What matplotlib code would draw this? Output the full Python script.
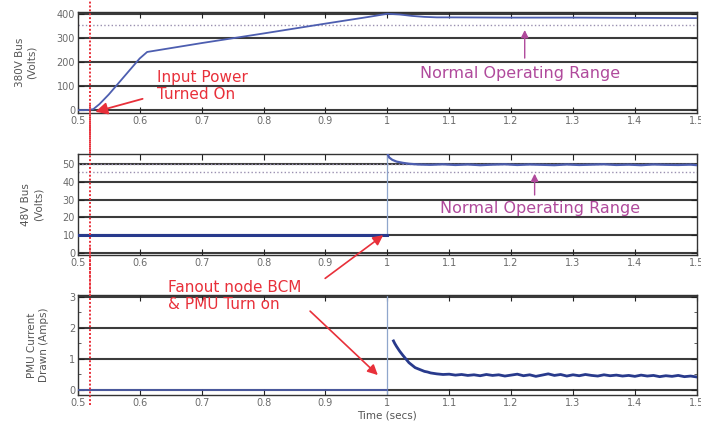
import matplotlib.pyplot as plt
import numpy as np

# ---- data ----
x_ticks = [0.5, 0.6, 0.7, 0.8, 0.9, 1.0, 1.1, 1.2, 1.3, 1.4, 1.5]
x_ticklabels = ['0.5', '0.6', '0.7', '0.8', '0.9', '1', '1.1', '1.2', '1.3', '1.4', '1.5']

# 380V bus
t380 = [0.5, 0.515, 0.525, 0.535, 0.55, 0.57, 0.59, 0.60, 0.612, 0.65, 0.70,
        0.80, 0.90, 0.97, 1.0, 1.02, 1.04, 1.06, 1.08, 1.1, 1.2, 1.3, 1.4, 1.5]
v380 = [0, 0, 4, 25, 65, 125, 185, 215, 242, 258, 279,
        319, 360, 388, 401, 398, 392, 388, 386, 386, 385, 385, 384, 383]
range380 = [355]
ticks380 = [0, 100, 200, 300, 400]

# 48V bus
t48_off = [0.5, 1.0]
v48_off = [10.3, 10.3]
t48_on = [1.0, 1.003, 1.008, 1.015, 1.025, 1.035, 1.05, 1.07, 1.09, 1.11,
          1.13, 1.15, 1.17, 1.19, 1.21, 1.23, 1.25, 1.27, 1.29, 1.31, 1.33,
          1.35, 1.37, 1.39, 1.41, 1.43, 1.45, 1.47, 1.49, 1.5]
v48_on = [56, 53.5, 52.2, 51.2, 50.5, 50.0, 49.6, 49.4, 49.7, 49.3,
          49.6, 49.2, 49.5, 49.7, 49.3, 49.6, 49.4, 49.2, 49.6, 49.3, 49.5,
          49.7, 49.3, 49.5, 49.2, 49.6, 49.4, 49.3, 49.5, 49.2]
range48 = [50, 45.5]
ticks48 = [0, 10, 20, 30, 40, 50]

# PMU current
tcur_off = [0.5, 1.0]
vcur_off = [0.0, 0.0]
tcur_on = [1.010, 1.012, 1.015, 1.02, 1.025, 1.03, 1.035, 1.04, 1.045, 1.05,
           1.055, 1.06, 1.065, 1.07, 1.08, 1.09, 1.10, 1.11, 1.12, 1.13, 1.14,
           1.15, 1.16, 1.17, 1.18, 1.19, 1.20, 1.21, 1.22, 1.23, 1.24, 1.25,
           1.26, 1.27, 1.28, 1.29, 1.30, 1.31, 1.32, 1.33, 1.34, 1.35, 1.36,
           1.37, 1.38, 1.39, 1.40, 1.41, 1.42, 1.43, 1.44, 1.45, 1.46, 1.47,
           1.48, 1.49, 1.50]
vcur_on = [1.58, 1.50, 1.40, 1.25, 1.12, 1.00, 0.88, 0.80, 0.72, 0.68,
           0.64, 0.60, 0.58, 0.55, 0.52, 0.50, 0.51, 0.48, 0.50, 0.47, 0.49,
           0.46, 0.50, 0.47, 0.49, 0.45, 0.48, 0.51, 0.46, 0.49, 0.44, 0.48,
           0.52, 0.47, 0.50, 0.45, 0.49, 0.46, 0.50, 0.47, 0.45, 0.49, 0.46,
           0.48, 0.45, 0.47, 0.44, 0.48, 0.45, 0.47, 0.43, 0.46, 0.44, 0.47,
           0.43, 0.45, 0.42]
tickscur = [0, 1, 2, 3]

t_power_on = 0.52
t_fanout = 1.0

# ---- styling ----
RED = '#e8303a'
PURPLE = '#b04a9c'
BLUE = '#4d5eb0'
NAVY = '#283a8c'
LIGHTBLUE = '#8fa6cc'
GRID = '#3c3c3c'
TICK_C = '#6a6a6a'

fig = plt.figure(figsize=(7.01, 4.24), dpi=100)
left, width, height = 0.111, 0.883, 0.238
ax1 = fig.add_axes([left, 0.7335, width, height])
ax2 = fig.add_axes([left, 0.3986, width, height])
ax3 = fig.add_axes([left, 0.0684, width, 0.236])


def style(ax, yticks, ylim, ylabel):
    ax.set_xlim(0.5, 1.5)
    ax.set_ylim(*ylim)
    ax.set_xticks(x_ticks)
    ax.set_xticklabels(x_ticklabels)
    ax.set_yticks(yticks)
    for y in yticks:
        ax.axhline(y, color=GRID, lw=1.5, zorder=1)
    ax.tick_params(direction='in', top=True, right=True, length=4,
                   labelsize=7, labelcolor=TICK_C, color='#222222', pad=2)
    for s in ax.spines.values():
        s.set_color('#333333')
        s.set_linewidth(1.0)
    ax.set_ylabel(ylabel, fontsize=7.5, color='#555555', labelpad=14,
                  linespacing=1.3)


style(ax1, ticks380, (-12, 408), '380V Bus\n(Volts)')
style(ax2, ticks48, (-1, 55.4), '48V Bus\n(Volts)')
style(ax3, tickscur, (-0.16, 3.06), 'PMU Current\nDrawn (Amps)')
ax3.set_yticks([0.5, 1.5, 2.5], minor=True)
ax3.tick_params(which='minor', direction='in', right=True, length=2.5, color='#444444')
ax3.set_xlabel('Time (secs)', fontsize=7.5, color='#555555', labelpad=2)

# normal operating range markers
for y in range380:
    ax1.axhline(y, color='#9a90b0', lw=1.0, ls=':', zorder=2)
for y in range48:
    ax2.axhline(y, color='#9a90b0', lw=1.0, ls=':', zorder=2)

# traces
ax1.plot(t380, v380, color=BLUE, lw=1.3, zorder=3)
ax2.plot(t48_off, v48_off, color=NAVY, lw=2.2, zorder=3)
ax2.vlines(t_fanout, v48_off[-1], v48_on[0], color=LIGHTBLUE, lw=0.9, zorder=2)
ax2.plot(t48_on, v48_on, color=BLUE, lw=1.6, zorder=3)
ax3.plot(tcur_off, vcur_off, color=BLUE, lw=1.2, zorder=3)
ax3.plot(tcur_on, vcur_on, color=NAVY, lw=2.0, zorder=3)
ax3.axvline(t_fanout, color=LIGHTBLUE, lw=0.9, zorder=2)

# red dotted "power on" line across all panels
ax1.axvline(t_power_on, ymin=-0.5, ymax=1.13, color=RED, lw=1.4,
            ls=(0, (1, 1)), clip_on=False, zorder=4)
ax2.axvline(t_power_on, ymin=-0.5, ymax=1.5, color=RED, lw=1.4,
            ls=(0, (1, 1)), clip_on=False, zorder=4)
ax3.axvline(t_power_on, ymin=-0.1, ymax=1.5, color=RED, lw=1.4,
            ls=(0, (1, 1)), clip_on=False, zorder=4)

# annotations
ax1.annotate('', xy=(0.524, -10), xytext=(0.609, 50),
             arrowprops=dict(arrowstyle='-|>', color=RED, lw=1.3, mutation_scale=18),
             annotation_clip=False, zorder=5)
ax1.text(0.628, 100, 'Input Power\nTurned On', color=RED, fontsize=11,
         ha='left', va='center', linespacing=1.1, zorder=5)

ax1.annotate('', xy=(1.222, 345), xytext=(1.222, 205),
             arrowprops=dict(arrowstyle='-|>', color=PURPLE, lw=1.0, mutation_scale=11))
ax1.text(1.214, 152, 'Normal Operating Range', color=PURPLE, fontsize=11.5,
         ha='center', va='center', zorder=5)

ax2.annotate('', xy=(1.238, 46), xytext=(1.238, 31),
             arrowprops=dict(arrowstyle='-|>', color=PURPLE, lw=1.0, mutation_scale=11))
ax2.text(1.246, 25, 'Normal Operating Range', color=PURPLE, fontsize=11.5,
         ha='center', va='center', zorder=5)

ax2.annotate('', xy=(0.997, 11), xytext=(0.896, -15),
             arrowprops=dict(arrowstyle='-|>', color=RED, lw=1.2, mutation_scale=15),
             annotation_clip=False, zorder=5)
ax3.annotate('', xy=(0.988, 0.42), xytext=(0.872, 2.6),
             arrowprops=dict(arrowstyle='-|>', color=RED, lw=1.2, mutation_scale=15),
             zorder=5)
ax3.text(0.646, 3.03, 'Fanout node BCM\n& PMU Turn on', color=RED, fontsize=11,
         ha='left', va='center', linespacing=1.2, zorder=5)

fig.savefig('out.png', dpi=100)
